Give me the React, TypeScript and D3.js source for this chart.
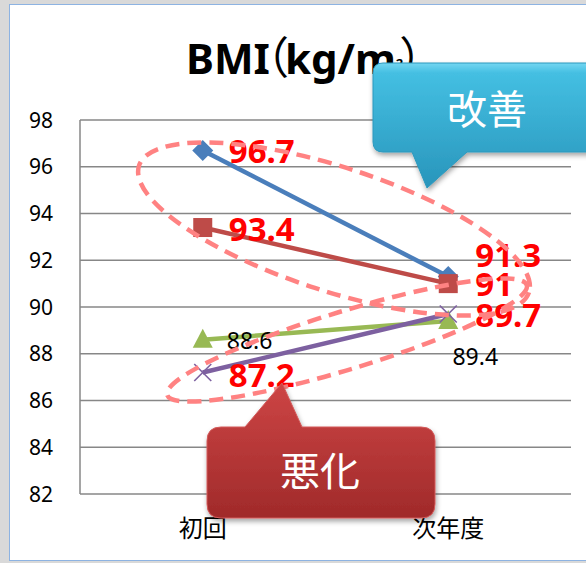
import React from "react";
import * as d3 from "d3";

const categories = ["初回", "次年度"];
const yTicks = [82, 84, 86, 88, 90, 92, 94, 96, 98];
const blueValues = [96.7, 91.3];
const redValues = [93.4, 91];
const greenValues = [88.6, 89.4];
const purpleValues = [87.2, 89.7];
const seriesNames = ["blue", "red", "green", "purple"];
const title = "BMI（kg/m";
const improveText = "改善";
const worsenText = "悪化";

const W = 586;
const H = 563;
const plot = { left: 80, right: 571, top: 120, bottom: 494 };

const colors: Record<string, string> = {
  blue: "#4a7ebb",
  red: "#be4b48",
  green: "#98b954",
  purple: "#7d60a0",
};

// label placement per series / point: [dx, dyCenter, anchor]
const labelPlacement: Record<string, [number, number, string][]> = {
  blue: [[26, 1, "start"], [27, -21, "start"]],
  red: [[26, 1.5, "start"], [27, 0.5, "start"]],
  green: [[24, 1.5, "start"], [27, 36, "middle"]],
  purple: [[26, 2.5, "start"], [27, 1.5, "start"]],
};
const highlighted: Record<string, boolean> = { blue: true, red: true, green: false, purple: true };

function Marker({ kind, x, y }: { kind: string; x: number; y: number }) {
  const c = colors[kind];
  if (kind === "blue") {
    const s = 10.5;
    return <path d={`M${x},${y - s} L${x + s},${y} L${x},${y + s} L${x - s},${y} Z`} fill={c} />;
  }
  if (kind === "red") {
    const s = 9.5;
    return <rect x={x - s} y={y - s} width={2 * s} height={2 * s} fill={c} />;
  }
  if (kind === "green") {
    return <path d={`M${x},${y - 11} L${x + 10},${y + 8} L${x - 10},${y + 8} Z`} fill={c} />;
  }
  const s = 8.5;
  return (
    <g stroke={c} strokeWidth={1.6}>
      <line x1={x - s} y1={y - s} x2={x + s} y2={y + s} />
      <line x1={x - s} y1={y + s} x2={x + s} y2={y - s} />
    </g>
  );
}

export default function App() {
  const y = d3.scaleLinear().domain([82, 98]).range([plot.bottom, plot.top]);
  const x = d3.scalePoint<string>().domain(categories).range([plot.left, plot.right]).padding(0.5);
  const dataMap: Record<string, number[]> = {
    blue: blueValues,
    red: redValues,
    green: greenValues,
    purple: purpleValues,
  };
  const line = d3
    .line<[string, number]>()
    .x((d) => x(d[0]) as number)
    .y((d) => y(d[1]));

  const numFont = "'Noto Sans', 'Liberation Sans', sans-serif";
  const cjkFont = "'Noto Sans CJK JP', 'Noto Sans', sans-serif";

  return (
    <svg
      width={W}
      height={H}
      style={{ position: "absolute", left: 0, top: 0, display: "block" }}
    >
      <defs>
        <linearGradient id="blueGrad" x1="0" y1="0" x2="0" y2="1">
          <stop offset="0" stopColor="#74d6f1" />
          <stop offset="0.08" stopColor="#44bfe2" />
          <stop offset="1" stopColor="#2895bb" />
        </linearGradient>
        <linearGradient id="redGrad" x1="0" y1="0" x2="0" y2="1">
          <stop offset="0" stopColor="#cd4545" />
          <stop offset="1" stopColor="#a02a2a" />
        </linearGradient>
        <filter id="shadow" x="-20%" y="-20%" width="140%" height="150%">
          <feDropShadow dx="1" dy="3" stdDeviation="2.5" floodColor="#000" floodOpacity="0.35" />
        </filter>
      </defs>
      <rect x={0} y={0} width={W} height={H} fill="#d9d9d9" />
      <rect x={9.5} y={4.5} width={W + 10} height={556} fill="#fff" stroke="#8db3e2" strokeWidth={1} />

      {/* title */}
      <text y={74} fontFamily={numFont} fontWeight={700} fontSize={42} fill="#000">
        <tspan x={186}>BMI</tspan>
        <tspan fontFamily={cjkFont} fontWeight={400} fontSize={44} dx={-25}>（</tspan>
        <tspan dx={-4}>kg/m</tspan>
        <tspan fontSize={13} dy={-6}>2</tspan>
        <tspan fontFamily={cjkFont} fontWeight={400} fontSize={44} dy={6} dx={-4}>）</tspan>
      </text>

      {/* grid */}
      {yTicks.map((t) => (
        <line key={t} x1={plot.left} x2={plot.right} y1={y(t)} y2={y(t)} stroke="#878787" strokeWidth={1.5} />
      ))}
      <line x1={plot.left} x2={plot.left} y1={plot.top} y2={plot.bottom} stroke="#878787" strokeWidth={1.5} />
      {yTicks.map((t) => (
        <text key={t} x={53} y={y(t) + 7.5} textAnchor="end" fontFamily={numFont} fontSize={21} fill="#000">
          {t}
        </text>
      ))}
      {categories.map((c) => (
        <text key={c} x={x(c)} y={537} textAnchor="middle" fontFamily={cjkFont} fontSize={24} fill="#000">
          {c}
        </text>
      ))}

      {/* series */}
      {seriesNames.map((s) => {
        const pts: [string, number][] = categories.map((c, i) => [c, dataMap[s][i]]);
        return (
          <g key={s}>
            <path d={line(pts) || ""} fill="none" stroke={colors[s]} strokeWidth={4.5} />
            {pts.map((p, i) => (
              <Marker key={i} kind={s} x={x(p[0]) as number} y={y(p[1])} />
            ))}
          </g>
        );
      })}

      {/* labels */}
      {seriesNames.map((s) =>
        categories.map((c, i) => {
          const v = dataMap[s][i];
          const [dx, dy, anchor] = labelPlacement[s][i];
          const hl = highlighted[s];
          const fs = hl ? 33 : 23;
          return (
            <text
              key={s + i}
              x={(x(c) as number) + dx}
              y={y(v) + dy + 0.357 * fs}
              textAnchor={anchor}
              fontFamily={numFont}
              fontWeight={hl ? 700 : 400}
              fontSize={fs}
              fill={hl ? "#ff0000" : "#000"}
            >
              {v}
            </text>
          );
        })
      )}

      {/* dashed ellipses */}
      <ellipse
        cx={334}
        cy={229}
        rx={205}
        ry={62}
        transform="rotate(18 334 229)"
        fill="none"
        stroke="#ff8282"
        strokeWidth={4.5}
        strokeDasharray="14 8"
      />
      <ellipse
        cx={347}
        cy={340}
        rx={188}
        ry={29}
        transform="rotate(-17 347 340)"
        fill="none"
        stroke="#ff8282"
        strokeWidth={4.5}
        strokeDasharray="14 8"
      />

      {/* callouts */}
      <g filter="url(#shadow)">
        <path
          d="M383,63 H600 V152 H467 L427,188 L412,152 H383 Q373,152 373,142 V73 Q373,63 383,63 Z"
          fill="url(#blueGrad)"
          stroke="#2c98bd"
          strokeWidth={1}
        />
      </g>
      <text x={487} y={124} textAnchor="middle" fontFamily={cjkFont} fontSize={40} fill="#fff">
        {improveText}
      </text>
      <g filter="url(#shadow)">
        <path
          d="M221,427 H245 L282,383 L302,427 H421 Q435,427 435,441 V504 Q435,518 421,518 H221 Q207,518 207,504 V441 Q207,427 221,427 Z"
          fill="url(#redGrad)"
          stroke="#d35a5a"
          strokeWidth={1}
        />
      </g>
      <text x={320} y={486} textAnchor="middle" fontFamily={cjkFont} fontSize={40} fill="#fff">
        {worsenText}
      </text>
    </svg>
  );
}
